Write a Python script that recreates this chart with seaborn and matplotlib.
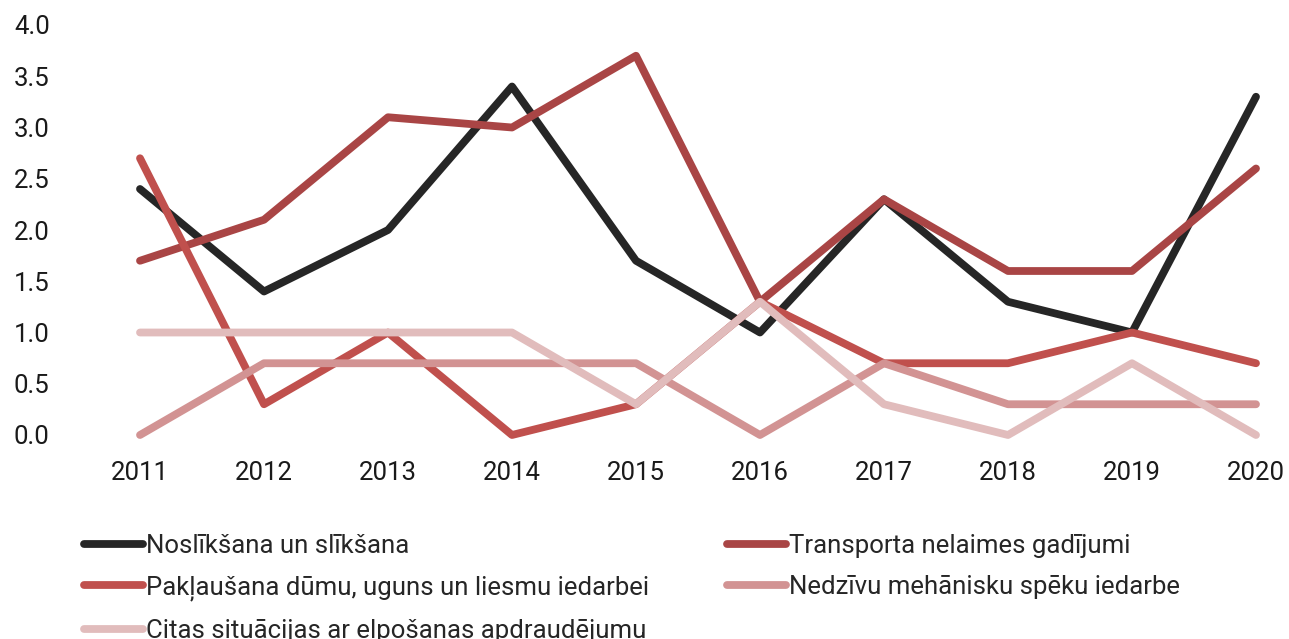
import pandas as pd
import numpy as np
import seaborn as sns
import matplotlib.pyplot as plt

years = [2011, 2012, 2013, 2014, 2015, 2016, 2017, 2018, 2019, 2020]

noslik = [2.4, 1.4, 2.0, 3.4, 1.7, 1.0, 2.3, 1.3, 1.0, 3.3]
transports = [1.7, 2.1, 3.1, 3.0, 3.7, 1.3, 2.3, 1.6, 1.6, 2.6]
dumi = [2.7, 0.3, 1.0, 0.0, 0.3, 1.3, 0.7, 0.7, 1.0, 0.7]
meh_speki = [0.0, 0.7, 0.7, 0.7, 0.7, 0.0, 0.7, 0.3, 0.3, 0.3]
citas = [1.0, 1.0, 1.0, 1.0, 0.3, 1.3, 0.3, 0.0, 0.7, 0.0]

names = ["Noslīkšana un slīkšana",
         "Transporta nelaimes gadījumi",
         "Pakļaušana dūmu, uguns un liesmu iedarbei",
         "Nedzīvu mehānisku spēku iedarbe",
         "Citas situācijas ar elpošanas apdraudējumu"]
colors = ["#262626", "#a94545", "#c0504d", "#d29393", "#e1bcbc"]

df = pd.DataFrame({"year": years * 5,
                   "value": noslik + transports + dumi + meh_speki + citas,
                   "series": sum([[n] * len(years) for n in names], [])})

sns.set_style("white")
plt.rcParams['font.family'] = ['Roboto', 'DejaVu Sans']

fig = plt.figure(figsize=(12.89, 6.39), dpi=100)
ax = fig.add_axes([140/1289, 1 - 435/639, (1256-140)/1289, 410/639])

sns.lineplot(data=df, x="year", y="value", hue="series", hue_order=names,
             palette=colors, linewidth=5.6, solid_capstyle='round',
             legend=False, ax=ax, clip_on=False)

ax.set_xlim(2011, 2020)
ax.set_ylim(0, 4)
ax.set_xticks(years)
ax.set_yticks(np.arange(0, 4.01, 0.5))
ax.set_yticklabels([f"{v:.1f}" for v in np.arange(0, 4.01, 0.5)])
ax.tick_params(axis='y', labelsize=18.5, pad=65, length=0, colors='#1a1a1a')
ax.tick_params(axis='x', labelsize=18.5, pad=19, length=0, colors='#1a1a1a')
ax.set_xlabel("")
ax.set_ylabel("")
sns.despine(ax=ax, left=True, bottom=True)

lines = ax.get_lines()
order = [0, 2, 4, 1, 3]
fig.legend([lines[i] for i in order], [names[i] for i in order],
           loc='upper left', bbox_to_anchor=(84/1289, 1 - 534/639),
           ncol=2, frameon=False, fontsize=18.5, handlelength=2.3,
           handletextpad=0.1, columnspacing=3.05, labelspacing=0.68,
           borderpad=0, borderaxespad=0)

plt.savefig("out.png", dpi=100)
